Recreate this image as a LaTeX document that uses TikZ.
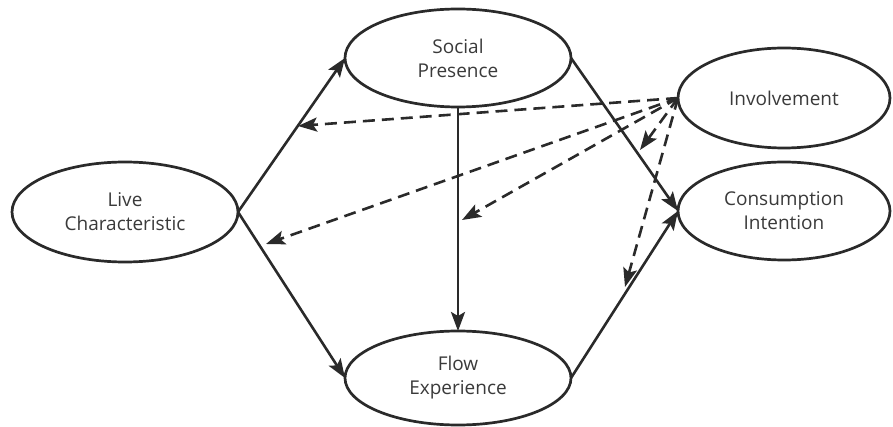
\documentclass[tikz,border=0pt]{standalone}
\usepackage{fontspec}
\setmainfont{Open Sans}
\usetikzlibrary{shapes.geometric,arrows.meta}
\definecolor{ink}{HTML}{2A2A2A}
\definecolor{textc}{HTML}{3A3A3A}
\begin{document}
\begin{tikzpicture}[x=1pt,y=-1pt,
  var/.style={ellipse, draw=ink, line width=2.7pt, inner sep=0pt, outer sep=0pt, align=center,
    font=\fontsize{19}{24}\selectfont, text=textc},
  effect/.style={draw=ink, line width=2.6pt, -{Stealth[length=19pt,width=14pt,inset=4pt]}},
  moder/.style={effect, dash pattern=on 12pt off 7pt}]
\useasboundingbox (0,0) rectangle (893,427);
\node[var, minimum width=226pt, minimum height=100pt] (L) at (125,212) {Live\\Characteristic};
\node[var, minimum width=226pt, minimum height=98pt] (S) at (458,58) {Social\\Presence};
\node[var, minimum width=226pt, minimum height=94pt] (F) at (458,378) {Flow\\Experience};
\node[var, minimum width=212pt, minimum height=100pt] (I) at (784,98) {Involvement};
\node[var, minimum width=212pt, minimum height=98pt] (C) at (784,211) {Consumption\\Intention};
\coordinate (ta) at (298,126);
\coordinate (tb) at (266,244);
\coordinate (tc) at (462,220);
\coordinate (td) at (640,150);
\coordinate (te) at (625,287);
\draw[effect] (L.east) -- (S.west);
\draw[effect] (L.east) -- (F.west);
\draw[effect] (S.south) -- (F.north);
\draw[effect] (S.east) -- (C.west);
\draw[effect] (F.east) -- (C.west);
\draw[moder] (I.west) -- (ta);
\draw[moder] (I.west) -- (tb);
\draw[moder] (I.west) -- (tc);
\draw[moder] (I.west) -- (td);
\draw[moder] (I.west) -- (te);
\end{tikzpicture}
\end{document}
